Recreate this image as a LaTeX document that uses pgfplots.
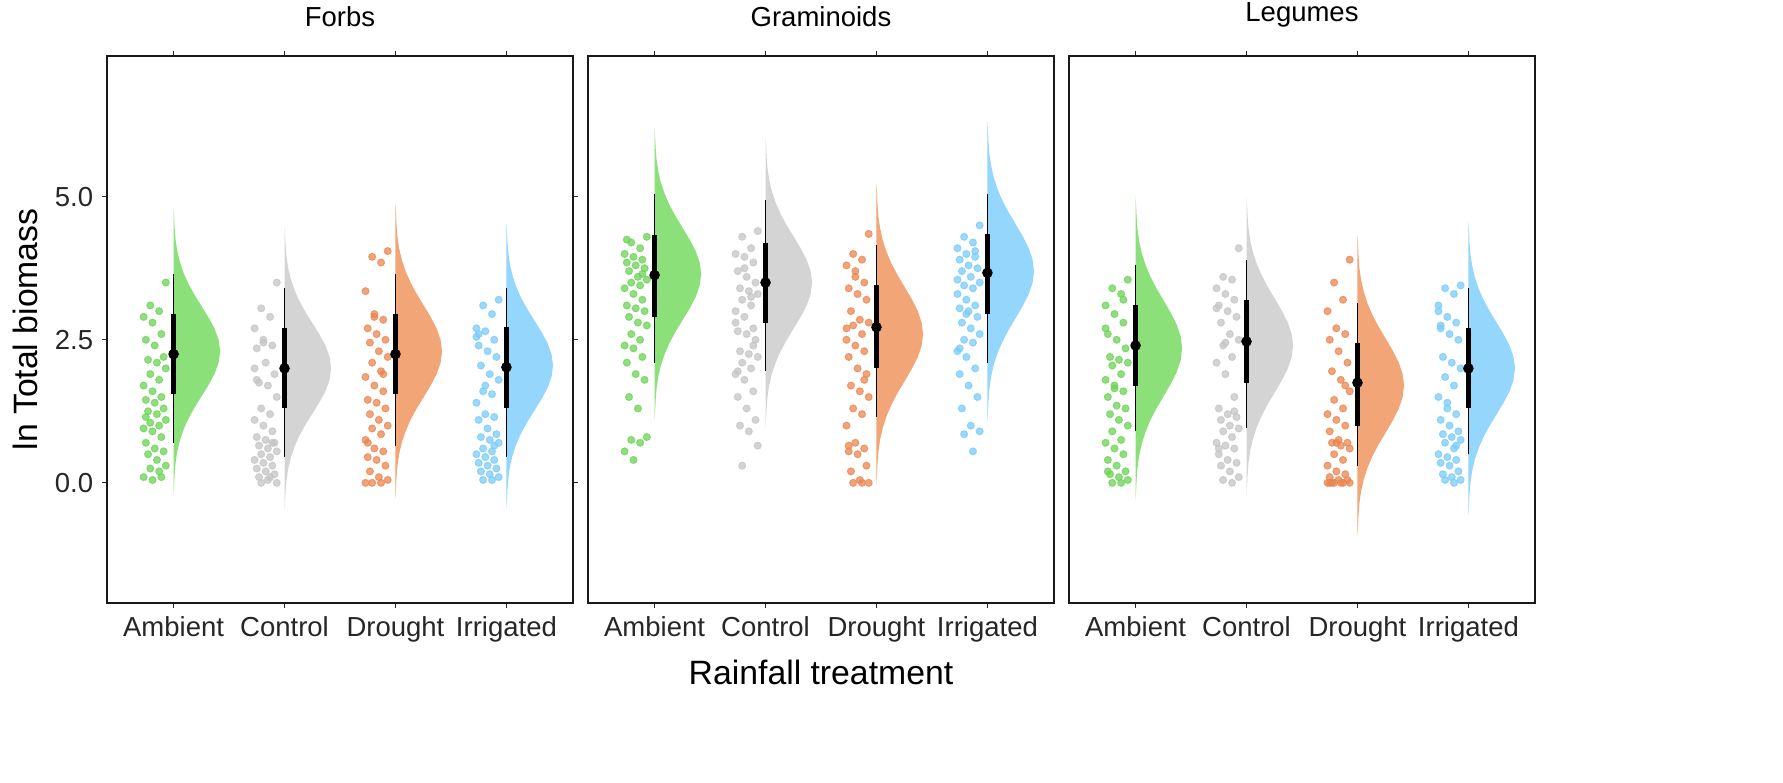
\documentclass[border=0pt]{standalone}
\usepackage{fontspec}
\setmainfont{Liberation Sans}
\usepackage{pgfplots}
\usepackage{pgfplotstable}
\pgfplotsset{compat=1.18}
\usepgfplotslibrary{groupplots}
\definecolor{cA}{HTML}{8BE07A}\definecolor{pA}{HTML}{6CD356}
\definecolor{cC}{HTML}{D4D4D4}\definecolor{pC}{HTML}{C4C4C4}
\definecolor{cD}{HTML}{F2A677}\definecolor{pD}{HTML}{EA8650}
\definecolor{cI}{HTML}{94D6FC}\definecolor{pI}{HTML}{7ACBF8}
\pgfplotstableread{
z w
-3.2 0
-3 0.005
-2.75 0.010
-2.5 0.018
-2.25 0.033
-2 0.057
-1.75 0.091
-1.5 0.136
-1.25 0.192
-1 0.255
-0.75 0.317
-0.5 0.371
-0.25 0.407
0 0.42
0.25 0.407
0.5 0.371
0.75 0.317
1 0.255
1.25 0.192
1.5 0.136
1.75 0.091
2 0.057
2.25 0.033
2.5 0.018
2.75 0.010
3 0.005
3.2 0
}\shape
\newcommand\vio[4]{\addplot[fill=#4, draw=none] table[x expr=#1+\thisrow{w}, y expr=#2+#3*\thisrow{z}]{\shape};}
\newcommand\pts[3]{\addplot[only marks, mark=*, mark size=1.4pt, color=#2, opacity=0.75] table[row sep=\\, x expr={#1-0.07-0.02*mod(\coordindex*7,11)}, y=y]{y\\ #3};}
\newcommand\pint[6]{\addplot[black, line width=0.7pt] coordinates {(#1,#2)(#1,#6)};
\addplot[black, line width=2pt] coordinates {(#1,#3)(#1,#5)};
\addplot[only marks, mark=*, mark size=1.9pt, black] coordinates {(#1,#4)};}
\begin{document}
\begin{tikzpicture}
\begin{groupplot}[group style={group size=3 by 1, horizontal sep=6pt},
  width=186.4pt, height=218.8pt, scale only axis,
  xmin=0.4, xmax=4.6, ymin=-2.1, ymax=7.46,
  xtick={1,2,3,4}, xticklabels={Ambient,Control,Drought,Irrigated},
  tick align=outside, major tick length=2pt, tick style={gray!30!black, line width=0.4pt},
  ticklabel style={font=\fontsize{11}{13}\selectfont, text=gray!30!black},
  /pgf/number format/assume math mode=true,
  axis line style={gray!20!black, line width=0.5pt},
  title style={font=\fontsize{11}{13}\selectfont, yshift=2pt},
  label style={font=\fontsize{13.5}{16}\selectfont}]
\nextgroupplot[title={Forbs}, ytick={0,2.5,5}, yticklabel style={/pgf/number format/.cd, fixed, fixed zerofill, precision=1}, ylabel={ln Total biomass}]
\coordinate (bl) at (rel axis cs:0,0);
\vio{1}{2.3}{0.78}{cA}\vio{2}{2.0}{0.78}{cC}\vio{3}{2.3}{0.8}{cD}\vio{4}{2.05}{0.78}{cI}
\pts{1}{pA}{3.5\\3.1\\3.0\\2.9\\2.8\\2.6\\2.5\\2.4\\2.2\\2.15\\2.1\\2.0\\1.9\\1.8\\1.7\\1.6\\1.5\\1.45\\1.4\\1.3\\1.25\\1.2\\1.1\\1.05\\1.0\\0.95\\0.9\\0.8\\0.7\\0.6\\0.55\\0.5\\0.4\\0.3\\0.25\\0.2\\0.1\\0.05\\0.1\\1.15\\}
\pts{2}{pC}{3.5\\3.05\\2.9\\2.7\\2.45\\2.4\\2.35\\2.1\\1.9\\1.75\\1.7\\1.5\\1.3\\1.2\\1.1\\1.0\\0.9\\0.8\\0.75\\0.7\\0.65\\0.6\\0.55\\0.5\\0.45\\0.4\\0.35\\0.3\\0.25\\0.2\\0.15\\0.1\\0.05\\0.0\\0.0\\0.1\\2.0\\2.5\\0.7\\1.8\\}
\pts{3}{pD}{4.05\\3.95\\3.85\\3.35\\2.95\\2.85\\2.7\\2.6\\2.5\\2.45\\2.3\\2.2\\2.1\\1.95\\1.85\\1.7\\1.6\\1.45\\1.4\\1.3\\1.2\\1.1\\1.0\\0.95\\0.85\\0.75\\0.6\\0.55\\0.45\\0.4\\0.3\\0.2\\0.1\\0.05\\0.0\\0.0\\0.0\\2.9\\1.9\\0.7\\}
\pts{4}{pI}{3.2\\3.1\\2.95\\2.7\\2.65\\2.5\\2.4\\2.3\\2.2\\2.05\\1.9\\1.8\\1.6\\1.55\\1.4\\1.2\\1.15\\1.1\\0.95\\0.85\\0.8\\0.75\\0.7\\0.6\\0.55\\0.5\\0.45\\0.4\\0.35\\0.3\\0.25\\0.2\\0.15\\0.1\\0.05\\0.05\\2.55\\1.7\\0.65\\2.6\\}
\pint{1}{0.7}{1.55}{2.25}{2.95}{3.65}\pint{2}{0.45}{1.3}{2.0}{2.7}{3.4}
\pint{3}{0.65}{1.55}{2.25}{2.95}{3.65}\pint{4}{0.45}{1.3}{2.02}{2.72}{3.4}
\nextgroupplot[title={Graminoids}, ytick=\empty, xlabel={Rainfall treatment}]
\vio{1}{3.65}{0.8}{cA}\vio{2}{3.5}{0.8}{cC}\vio{3}{2.6}{0.82}{cD}\vio{4}{3.7}{0.82}{cI}
\pts{1}{pA}{4.3\\4.2\\4.1\\4.0\\3.95\\3.9\\3.85\\3.8\\3.75\\3.7\\3.6\\3.55\\3.5\\3.45\\3.4\\3.3\\3.2\\3.1\\3.05\\3.0\\2.9\\2.8\\2.75\\2.6\\2.5\\2.4\\2.35\\2.2\\2.1\\1.9\\1.8\\1.5\\1.3\\0.8\\0.75\\0.7\\0.55\\0.4\\3.65\\4.25\\}
\pts{2}{pC}{4.4\\4.3\\4.1\\4.0\\3.95\\3.85\\3.7\\3.6\\3.5\\3.4\\3.35\\3.3\\3.2\\3.1\\3.0\\2.9\\2.7\\2.65\\2.6\\2.5\\2.3\\2.25\\2.2\\2.1\\2.0\\1.9\\1.8\\1.6\\1.5\\1.3\\1.1\\1.0\\0.9\\0.65\\0.3\\3.25\\2.8\\3.75\\2.4\\1.95\\}
\pts{3}{pD}{4.35\\4.0\\3.9\\3.8\\3.6\\3.5\\3.4\\3.3\\3.2\\3.0\\2.85\\2.8\\2.75\\2.6\\2.5\\2.4\\2.3\\2.2\\2.0\\1.9\\1.7\\1.6\\1.5\\1.3\\1.2\\1.0\\0.7\\0.6\\0.55\\0.5\\0.3\\0.2\\0.05\\0.0\\0.0\\0.0\\2.7\\3.7\\1.8\\0.65\\}
\pts{4}{pI}{4.5\\4.3\\4.2\\4.1\\4.0\\3.95\\3.9\\3.8\\3.75\\3.7\\3.6\\3.5\\3.45\\3.4\\3.3\\3.2\\3.1\\3.05\\3.0\\2.9\\2.8\\2.7\\2.6\\2.5\\2.45\\2.3\\2.2\\2.0\\1.9\\1.7\\1.5\\1.3\\1.0\\0.9\\0.85\\0.55\\3.55\\2.95\\4.05\\2.35\\}
\pint{1}{2.1}{2.9}{3.63}{4.33}{5.05}\pint{2}{1.95}{2.8}{3.5}{4.2}{4.95}
\pint{3}{1.15}{2.0}{2.72}{3.45}{4.15}\pint{4}{2.1}{2.95}{3.67}{4.35}{5.05}
\nextgroupplot[title={Legumes}, ytick=\empty]
\vio{1}{2.35}{0.83}{cA}\vio{2}{2.4}{0.82}{cC}\vio{3}{1.7}{0.82}{cD}\vio{4}{2.0}{0.8}{cI}
\pts{1}{pA}{3.55\\3.4\\3.3\\3.1\\2.95\\2.8\\2.6\\2.5\\2.35\\2.2\\2.15\\2.1\\2.05\\1.9\\1.8\\1.7\\1.6\\1.5\\1.35\\1.3\\1.2\\1.1\\1.0\\0.9\\0.75\\0.7\\0.6\\0.5\\0.4\\0.3\\0.2\\0.15\\0.1\\0.05\\0.0\\0.0\\2.7\\1.65\\3.2\\0.2\\}
\pts{2}{pC}{4.1\\3.6\\3.55\\3.4\\3.3\\3.2\\3.1\\3.0\\2.9\\2.8\\2.6\\2.5\\2.4\\2.2\\2.1\\1.9\\1.5\\1.3\\1.2\\1.15\\1.1\\1.0\\0.95\\0.9\\0.8\\0.7\\0.65\\0.6\\0.5\\0.4\\0.35\\0.3\\0.2\\0.1\\0.05\\0.0\\3.05\\2.45\\1.25\\0.6\\}
\pts{3}{pD}{3.9\\3.5\\3.2\\3.0\\2.7\\2.6\\2.5\\2.3\\2.1\\1.95\\1.8\\1.6\\1.45\\1.3\\1.2\\1.1\\1.0\\0.9\\0.75\\0.7\\0.7\\0.65\\0.6\\0.5\\0.4\\0.3\\0.2\\0.15\\0.1\\0.05\\0.05\\0.0\\0.0\\0.0\\0.0\\0.0\\0.0\\0.7\\1.7\\0.0\\}
\pts{4}{pI}{3.45\\3.4\\3.3\\3.1\\2.9\\2.8\\2.7\\2.6\\2.5\\2.2\\2.1\\2.0\\1.85\\1.7\\1.5\\1.4\\1.2\\1.1\\1.0\\0.9\\0.85\\0.8\\0.75\\0.7\\0.6\\0.5\\0.45\\0.4\\0.35\\0.3\\0.2\\0.15\\0.1\\0.05\\0.05\\0.0\\3.0\\1.3\\0.65\\2.75\\}
\pint{1}{0.9}{1.7}{2.4}{3.1}{3.8}\pint{2}{0.95}{1.75}{2.47}{3.2}{3.9}
\pint{3}{0.3}{1.0}{1.75}{2.45}{3.15}\pint{4}{0.5}{1.3}{2.0}{2.7}{3.4}
\end{groupplot}
\pgfresetboundingbox
\path ([shift={(-42.8pt,-72pt)}]bl) rectangle ++(713.2pt,313.2pt);
\end{tikzpicture}
\end{document}
